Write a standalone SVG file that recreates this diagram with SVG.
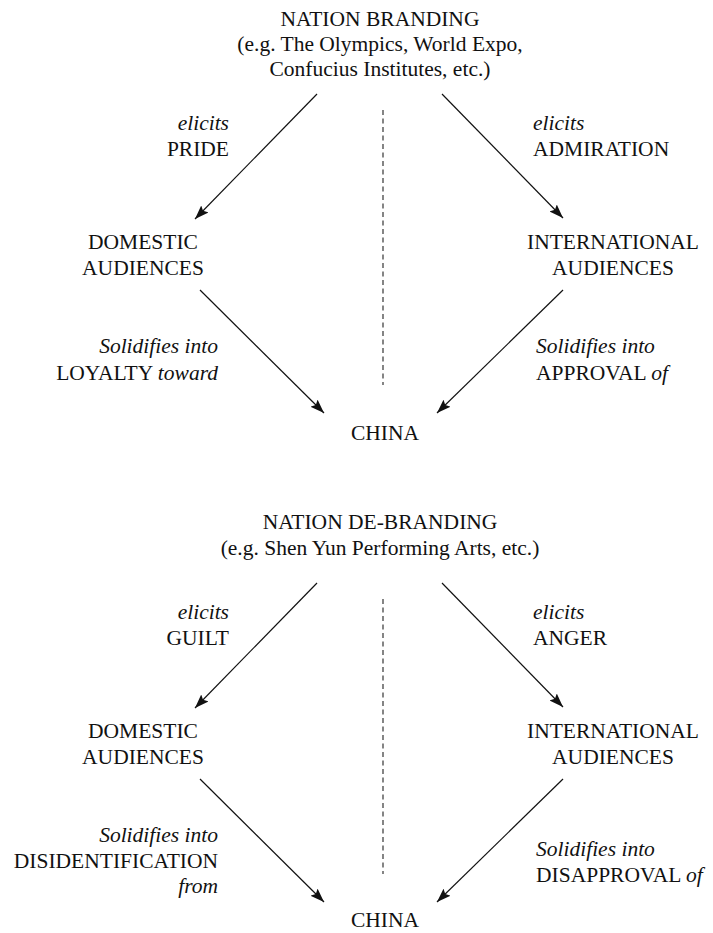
<svg xmlns="http://www.w3.org/2000/svg" width="713" height="933" viewBox="0 0 713 933">
<style>
text{font-family:"Liberation Serif","Times New Roman",serif;font-size:21.5px;fill:#111}
.i{font-style:italic}
.m{text-anchor:middle}
.e{text-anchor:end}
.c{stroke:#111;stroke-width:1.2;fill:none}
.d{stroke:#222;stroke-width:1.1;stroke-dasharray:5 3.5;fill:none}
</style>
<defs>
<marker id="ah" markerUnits="userSpaceOnUse" markerWidth="15" markerHeight="11" refX="14" refY="5.5" orient="auto">
<path d="M0,0.5 L14,5.5 L0,10.5 L2.5,5.5 Z" fill="#111"/>
</marker>
</defs>
<rect width="713" height="933" fill="#fff"/>
<g id="connectors">
<line class="c" x1="317" y1="94" x2="195" y2="219" marker-end="url(#ah)"/>
<line class="c" x1="442" y1="94" x2="563" y2="218" marker-end="url(#ah)"/>
<line class="c" x1="200" y1="290" x2="324" y2="413" marker-end="url(#ah)"/>
<line class="c" x1="563" y1="290" x2="437" y2="413" marker-end="url(#ah)"/>
<line class="d" x1="383" y1="110" x2="383" y2="385"/>
<line class="c" x1="317" y1="583" x2="195" y2="708" marker-end="url(#ah)"/>
<line class="c" x1="442" y1="583" x2="563" y2="707" marker-end="url(#ah)"/>
<line class="c" x1="200" y1="779" x2="324" y2="902" marker-end="url(#ah)"/>
<line class="c" x1="563" y1="779" x2="437" y2="902" marker-end="url(#ah)"/>
<line class="d" x1="383" y1="599" x2="383" y2="874"/>
</g>
<g id="nation-branding">
<text class="m" x="380" y="26">NATION BRANDING</text>
<text class="m" x="380" y="51">(e.g. The Olympics, World Expo,</text>
<text class="m" x="380" y="76">Confucius Institutes, etc.)</text>
</g>
<g id="label-pride">
<text class="e i" x="229" y="130">elicits</text>
<text class="e" x="229" y="156">PRIDE</text>
</g>
<g id="label-admiration">
<text class="i" x="533" y="130">elicits</text>
<text x="533" y="156">ADMIRATION</text>
</g>
<g id="domestic-1">
<text class="m" x="143" y="249">DOMESTIC</text>
<text class="m" x="143" y="275">AUDIENCES</text>
</g>
<g id="international-1">
<text class="m" x="613" y="249">INTERNATIONAL</text>
<text class="m" x="613" y="275">AUDIENCES</text>
</g>
<g id="label-loyalty">
<text class="e i" x="218" y="353">Solidifies into</text>
<text class="e" x="218" y="380">LOYALTY <tspan class="i">toward</tspan></text>
</g>
<g id="label-approval">
<text class="i" x="536" y="353">Solidifies into</text>
<text x="536" y="380">APPROVAL <tspan class="i">of</tspan></text>
</g>
<g id="china-1">
<text class="m" x="385" y="440">CHINA</text>
</g>
<g id="nation-de-branding">
<text class="m" x="380" y="529">NATION DE-BRANDING</text>
<text class="m" x="380" y="555">(e.g. Shen Yun Performing Arts, etc.)</text>
</g>
<g id="label-guilt">
<text class="e i" x="229" y="619">elicits</text>
<text class="e" x="229" y="645">GUILT</text>
</g>
<g id="label-anger">
<text class="i" x="533" y="619">elicits</text>
<text x="533" y="645">ANGER</text>
</g>
<g id="domestic-2">
<text class="m" x="143" y="738">DOMESTIC</text>
<text class="m" x="143" y="764">AUDIENCES</text>
</g>
<g id="international-2">
<text class="m" x="613" y="738">INTERNATIONAL</text>
<text class="m" x="613" y="764">AUDIENCES</text>
</g>
<g id="label-disidentification">
<text class="e i" x="218" y="842">Solidifies into</text>
<text class="e" x="218" y="868">DISIDENTIFICATION</text>
<text class="e i" x="218" y="893">from</text>
</g>
<g id="label-disapproval">
<text class="i" x="536" y="856">Solidifies into</text>
<text x="536" y="882">DISAPPROVAL <tspan class="i">of</tspan></text>
</g>
<g id="china-2">
<text class="m" x="385" y="927">CHINA</text>
</g>
</svg>
